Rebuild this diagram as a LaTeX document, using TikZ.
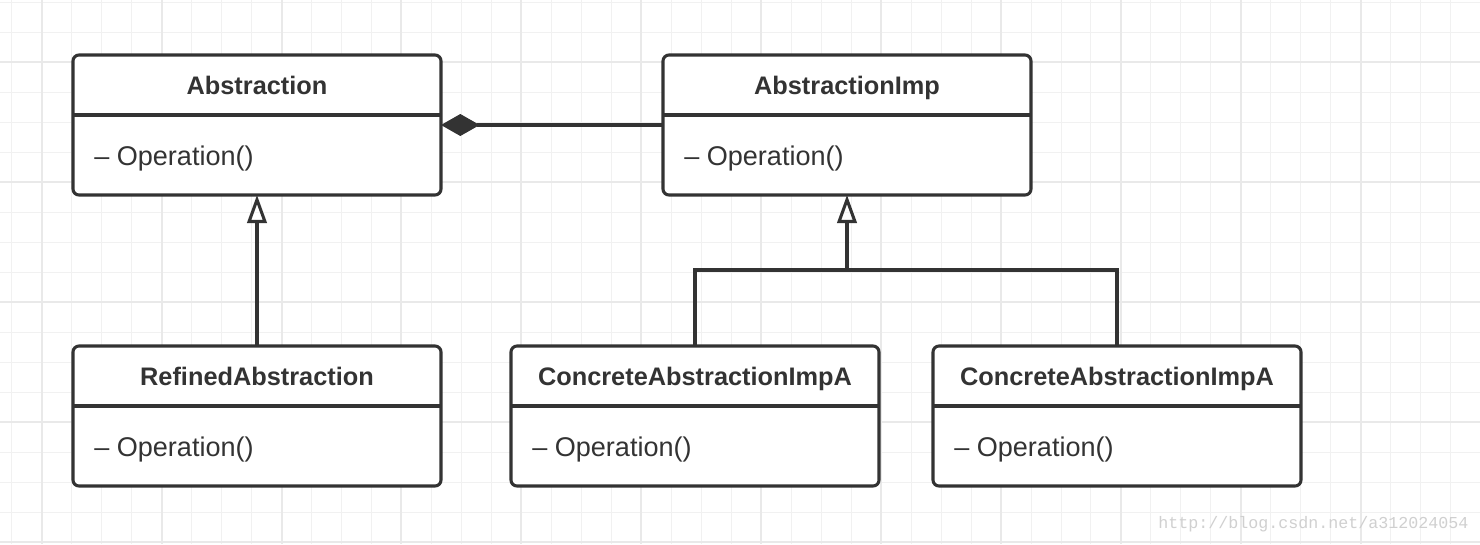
\documentclass[tikz,border=0pt]{standalone}
\usepackage{fontspec}
\setmainfont{Liberation Sans}
\setmonofont{Liberation Mono}
\usepackage{tikz}
\usetikzlibrary{arrows.meta}
\definecolor{umldark}{HTML}{333333}
\definecolor{gridthin}{HTML}{F1F1F1}
\definecolor{gridthick}{HTML}{E9E9E9}
\definecolor{markgray}{HTML}{D0D0D0}

\begin{document}
\begin{tikzpicture}[x=0.75pt,y=-0.75pt,
  cls/.style={draw=umldark,fill=white,line width=2.3pt,rounded corners=4.5pt,
              minimum width=276pt,minimum height=105pt,inner sep=0pt,outer sep=0pt},
  clstitle/.style={font=\fontsize{19}{22}\selectfont\bfseries,text=umldark,
                   inner sep=0pt,anchor=base},
  clsop/.style={font=\fontsize{20.3}{23}\selectfont,text=umldark,
                inner sep=0pt,anchor=base west},
  link/.style={draw=umldark,line width=2.3pt},
  inherit/.style={link,-{Triangle[open,length=21pt,width=14.5pt]}},
  compose/.style={link,-{Diamond[length=29pt,width=16.5pt]}}]
  \useasboundingbox (0,0) rectangle (1480,544);
  \fill[white] (0,0) rectangle (1480,544);

  % paper grid
  \foreach \gx in {11.7,41.68,...,1480}
    \draw[gridthin,line width=0.75pt] (\gx,0) -- (\gx,544);
  \foreach \gy in {2,32,...,544}
    \draw[gridthin,line width=0.75pt] (0,\gy) -- (1480,\gy);
  \foreach \gx in {41.7,161.62,...,1480}
    \draw[gridthick,line width=1.5pt] (\gx,0) -- (\gx,544);
  \foreach \gy in {62,182,...,544}
    \draw[gridthick,line width=1.5pt] (0,\gy) -- (1480,\gy);

  % classes
  \foreach \nm/\cx/\cy/\ttl in {abs/257/125/Abstraction,
      imp/847/125/AbstractionImp, ref/257/416/RefinedAbstraction,
      impA/695/416/ConcreteAbstractionImpA, impB/1117/416/ConcreteAbstractionImpA}{
    \node[cls] (\nm) at (\cx,\cy) {};
    \draw[link] ([yshift=-45pt]\nm.north west) -- ([yshift=-45pt]\nm.north east);
    \node[clstitle] (\nm-title) at ([yshift=-29.6pt]\nm.north) {\ttl};
    \node[clsop] (\nm-op) at ([xshift=15.75pt,yshift=-82.5pt]\nm.north west)
      {-- Operation()};
  }

  % relations
  \draw[compose] (imp.west) -- (abs.east);
  \draw[inherit] (ref.north) -- (abs.south);
  \path (imp.south) ++(0,75) coordinate (fork);
  \draw[inherit] (fork) -- (imp.south);
  \draw[link] (impA.north) |- (fork) -| (impB.north);

  \node[font=\ttfamily\fontsize{12.5}{14}\selectfont,text=markgray,
        anchor=base west,inner sep=0pt] (mark) at (1158,528)
    {http://blog.csdn.net/a312024054};
\end{tikzpicture}
\end{document}
